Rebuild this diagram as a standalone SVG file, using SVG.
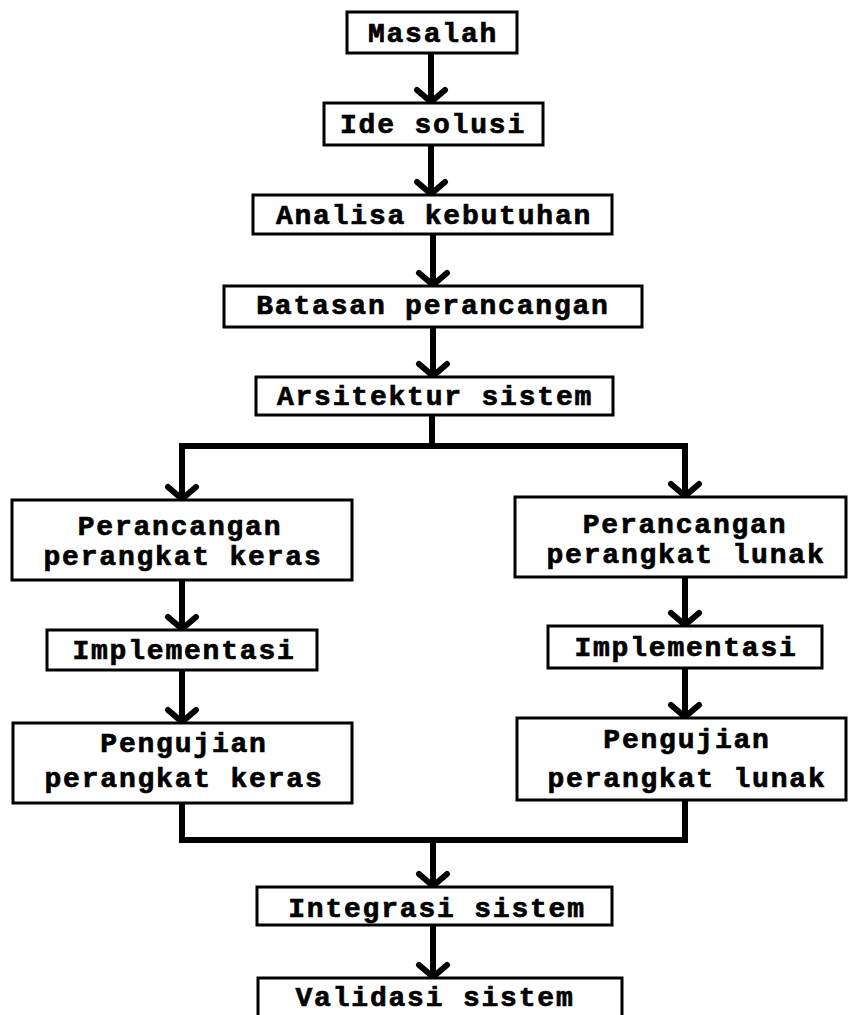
<svg xmlns="http://www.w3.org/2000/svg" width="849" height="1015" viewBox="0 0 849 1015">
<style>
.box{fill:#fff;stroke:#000;stroke-width:3}
.t{font-family:"Liberation Mono","DejaVu Sans Mono",monospace;font-weight:bold;font-size:28px;letter-spacing:1.8px;text-anchor:middle;fill:#000;stroke:#000;stroke-width:0.7px}
.c{fill:none;stroke:#000;stroke-width:6}
</style>
<defs>
<marker id="ah" viewBox="0 0 20 36" refX="17" refY="18" markerWidth="20" markerHeight="36" orient="auto" markerUnits="userSpaceOnUse">
<path d="M4 4 L16 18 L4 32" fill="none" stroke="#000" stroke-width="6" stroke-linecap="round" stroke-linejoin="round"/>
</marker>
</defs>
<rect width="849" height="1015" fill="#fff"/>
<g id="connectors">
<path class="c" d="M431 53 V103" marker-end="url(#ah)"/>
<path class="c" d="M431 145 V195" marker-end="url(#ah)"/>
<path class="c" d="M433 234 V286" marker-end="url(#ah)"/>
<path class="c" d="M433 327 V377" marker-end="url(#ah)"/>
<path class="c" d="M432 415 V446"/>
<path class="c" d="M182 446 H685"/>
<path class="c" d="M182 443 V500" marker-end="url(#ah)"/>
<path class="c" d="M685 443 V497" marker-end="url(#ah)"/>
<path class="c" d="M182 580 V630" marker-end="url(#ah)"/>
<path class="c" d="M685 577 V626" marker-end="url(#ah)"/>
<path class="c" d="M182 670 V723" marker-end="url(#ah)"/>
<path class="c" d="M685 668 V718" marker-end="url(#ah)"/>
<path class="c" d="M182 803 V840 H685 V800"/>
<path class="c" d="M433 840 V887" marker-end="url(#ah)"/>
<path class="c" d="M433 925 V978" marker-end="url(#ah)"/>
</g>
<g id="masalah"><rect class="box" x="347" y="12" width="170" height="41"/><text class="t" x="433" y="42">Masalah</text></g>
<g id="ide-solusi"><rect class="box" x="324" y="103" width="219" height="42"/><text class="t" x="433" y="133">Ide solusi</text></g>
<g id="analisa-kebutuhan"><rect class="box" x="253" y="195" width="359" height="39"/><text class="t" x="434" y="224">Analisa kebutuhan</text></g>
<g id="batasan-perancangan"><rect class="box" x="224" y="286" width="418" height="41"/><text class="t" x="433" y="314">Batasan perancangan</text></g>
<g id="arsitektur-sistem"><rect class="box" x="256" y="377" width="357" height="38"/><text class="t" x="435" y="405">Arsitektur sistem</text></g>
<g id="perancangan-keras"><rect class="box" x="12" y="500" width="340" height="80"/><text class="t" x="180" y="535">Perancangan</text><text class="t" x="183" y="565">perangkat keras</text></g>
<g id="perancangan-lunak"><rect class="box" x="515" y="497" width="331" height="80"/><text class="t" x="685" y="533">Perancangan</text><text class="t" x="686" y="563">perangkat lunak</text></g>
<g id="implementasi-keras"><rect class="box" x="47" y="630" width="270" height="40"/><text class="t" x="184" y="659">Implementasi</text></g>
<g id="implementasi-lunak"><rect class="box" x="548" y="626" width="274" height="42"/><text class="t" x="686" y="656">Implementasi</text></g>
<g id="pengujian-keras"><rect class="box" x="13" y="723" width="339" height="80"/><text class="t" x="184" y="752">Pengujian</text><text class="t" x="184" y="787">perangkat keras</text></g>
<g id="pengujian-lunak"><rect class="box" x="517" y="718" width="329" height="82"/><text class="t" x="687" y="748">Pengujian</text><text class="t" x="687" y="787">perangkat lunak</text></g>
<g id="integrasi-sistem"><rect class="box" x="257" y="887" width="355" height="38"/><text class="t" x="437" y="917">Integrasi sistem</text></g>
<g id="validasi-sistem"><rect class="box" x="258" y="978" width="364" height="45"/><text class="t" x="435" y="1006">Validasi sistem</text></g>
</svg>
